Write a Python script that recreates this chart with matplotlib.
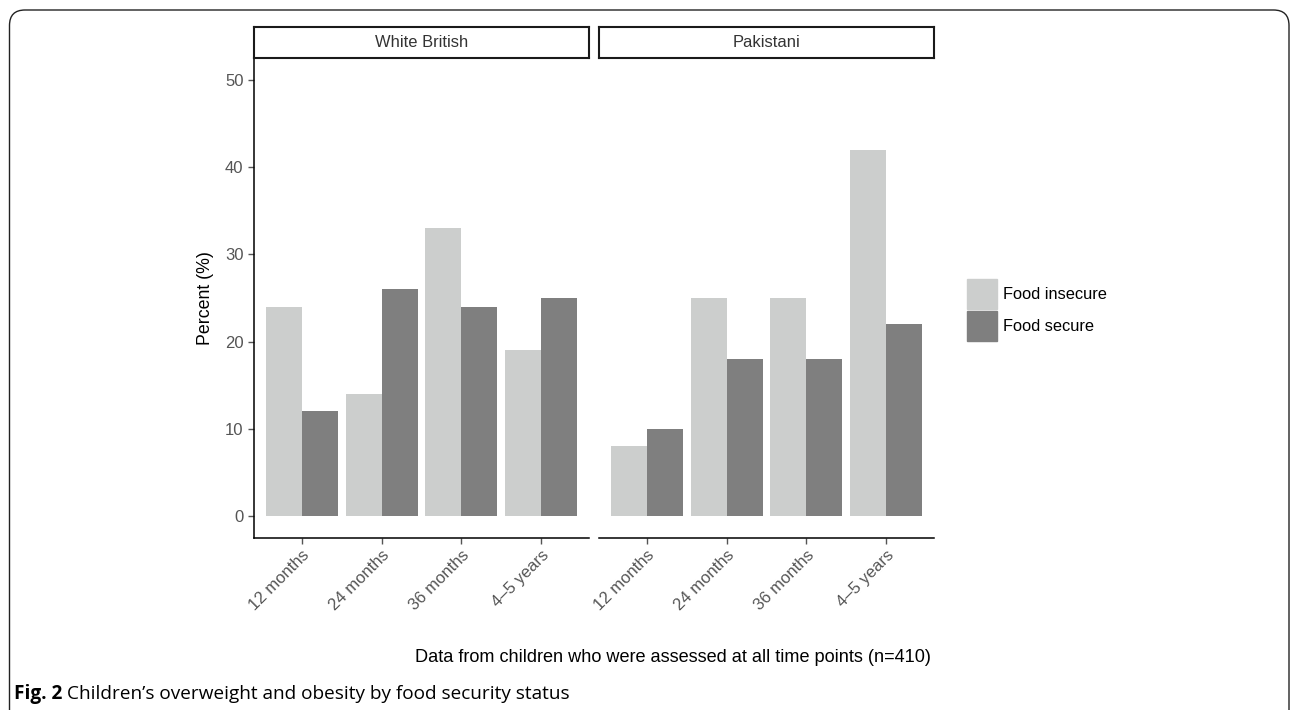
import numpy as np
import matplotlib.pyplot as plt
from matplotlib.patches import FancyBboxPatch, Rectangle

# data
time_points = ['12 months', '24 months', '36 months', '4\u20135 years']
groups = ['White British', 'Pakistani']
insecure = {'White British': [24, 14, 33, 19], 'Pakistani': [8, 25, 25, 42]}
secure = {'White British': [12, 26, 24, 25], 'Pakistani': [10, 18, 18, 22]}
series_names = ['Food insecure', 'Food secure']
series_colors = ['#cccecd', '#7f7f7f']

plt.rcParams['font.family'] = ['Liberation Sans', 'DejaVu Sans']
tick_grey = '#555555'

W, H = 1290, 710
fig = plt.figure(figsize=(W / 100, H / 100), dpi=100)

def px(x0, y0, x1, y1):
    """pixel box (top-left origin) -> figure fraction rect"""
    return [x0 / W, 1 - y1 / H, (x1 - x0) / W, (y1 - y0) / H]

panel_x = [(254, 589), (599, 934)]
x = np.arange(len(time_points))
bw = 0.45

for k, g in enumerate(groups):
    x0, x1 = panel_x[k]
    ax = fig.add_axes(px(x0, 58, x1, 538))
    ax.bar(x - bw / 2, insecure[g], width=bw, color=series_colors[0], label=series_names[0])
    ax.bar(x + bw / 2, secure[g], width=bw, color=series_colors[1], label=series_names[1])
    ax.set_xlim(-0.6, 3.6)
    ax.set_ylim(-2.5, 52.5)
    ax.set_xticks(x)
    ax.set_xticklabels(time_points, rotation=45, ha='right', va='top', rotation_mode='anchor')
    for s in ['top', 'right']:
        ax.spines[s].set_visible(False)
    ax.spines['bottom'].set_linewidth(1.1)
    ax.spines['left'].set_linewidth(1.1)
    ax.tick_params(axis='both', colors=tick_grey, labelsize=12, length=4, width=1.0)
    ax.tick_params(axis='x', pad=3)
    if k == 0:
        ax.set_yticks([0, 10, 20, 30, 40, 50])
        ax.set_ylabel('Percent (%)', fontsize=12.8, labelpad=8)
    else:
        ax.spines['left'].set_visible(False)
        ax.set_yticks([])
    # facet strip
    sax = fig.add_axes(px(x0, 27, x1, 58))
    sax.set_xticks([])
    sax.set_yticks([])
    for s in sax.spines.values():
        s.set_linewidth(1.5)
        s.set_color('#1a1a1a')
    sax.text(0.5, 0.5, g, ha='center', va='center', fontsize=11.9, color='#333333',
             transform=sax.transAxes)

# legend
handles = [Rectangle((0, 0), 1, 1, color=c) for c in series_colors]
fig.legend(handles, series_names, loc='center left', bbox_to_anchor=(952 / W, 1 - 310 / H),
           frameon=False, fontsize=11.8, handlelength=1.83, handleheight=2.44,
           handletextpad=0.37, labelspacing=0.12)

fig.text(673 / W, 1 - 658 / H, 'Data from children who were assessed at all time points (n=410)',
         ha='center', va='center', fontsize=13.1)

# caption
cap_font = ['Open Sans', 'DejaVu Sans']
t1 = fig.text(14 / W, 1 - 694 / H, 'Fig. 2', ha='left', va='center', fontsize=13.7,
              fontweight='bold', family=cap_font)
fig.canvas.draw()
bb = t1.get_window_extent()
fig.text((bb.x1 + 5) / W, 1 - 694 / H, 'Children\u2019s overweight and obesity by food security status',
         ha='left', va='center', fontsize=13.7, family=cap_font)

# outer frame with rounded top corners
frame = FancyBboxPatch((9.5 / W, -0.05), (1289 - 9.5) / W, 1 - 10 / H + 0.05,
                       boxstyle='round,pad=0,rounding_size=0.012', transform=fig.transFigure,
                       fill=False, edgecolor='#222222', linewidth=1.0, mutation_aspect=W / H)
fig.patches.append(frame)

fig.savefig('out.png', dpi=100)
